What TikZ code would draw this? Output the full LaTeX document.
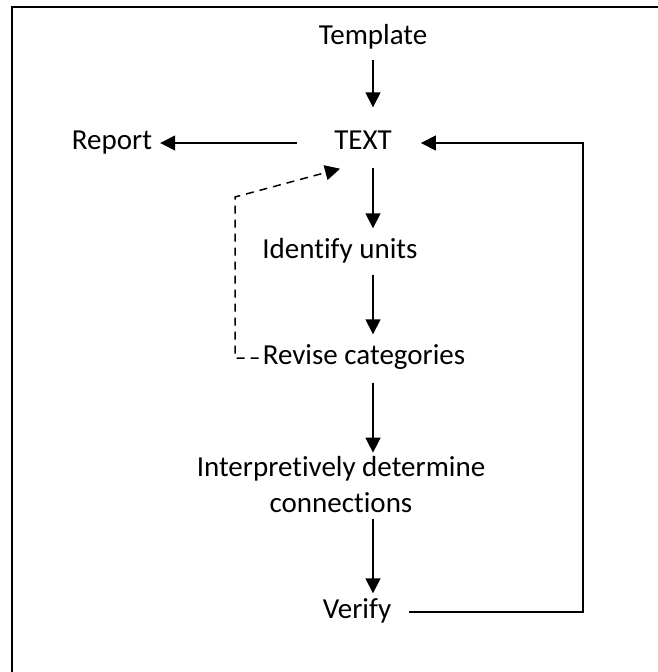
\documentclass[tikz,border=0pt]{standalone}
\usepackage{fontspec}
\setmainfont{Carlito}[Ligatures=NoCommon]
\usetikzlibrary{arrows.meta}

\begin{document}
\begin{tikzpicture}[x=1pt, y=-1pt,
    lbl/.style={inner sep=0pt, font=\fontsize{29}{36}\selectfont},
    word/.style={lbl, text height=20pt, text depth=7pt},
    flow/.style={-{Triangle[length=15pt,width=15pt]}, line width=1.5pt},
    back/.style={flow, dash pattern=on 8pt off 6pt}]
    % Page size
    \useasboundingbox (0,0) rectangle (658,672);

    % Frame
    \draw[line width=2pt] (12,7) rectangle (690,700);

    % Steps
    \node[word] (tmpl) at (373,38) {Template};
    \node[word] (text) at (363,143) {TEXT};
    \node[word] (report) at (112,143) {Report};
    \node[word] (identify) at (340,252) {Identify units};
    \node[word] (revise) at (364,358) {Revise categories};
    \node[lbl, align=center] (interp) at (341,485) {Interpretively determine\\connections};
    \node[word] (verify) at (357,612) {Verify};

    % Helper points
    \coordinate (col) at (373,0);
    \coordinate (rt) at (583,380);
    \coordinate (dcorner) at (235,197);

    % Main flow
    \foreach \a/\b/\s/\e in {tmpl/text/8/22, text/identify/11/10, identify/revise/9/10,
                             revise/interp/11/4, interp/verify/6/5} {
        \draw[flow, shorten <=\s pt, shorten >=\e pt] (\a.south -| col) -- (\b.north -| col);
    }

    % Report
    \draw[flow, shorten <=37pt, shorten >=8pt] (text.west) -- (report.east);

    % Loop back from Verify
    \draw[flow, shorten <=18pt, shorten >=29pt] (verify.east) -| (rt) |- (text.east);

    % Revision (dashed)
    \draw[back, shorten <=4pt] (revise.west) -| (dcorner) -- ([shift={(6,12)}]text.south west);
\end{tikzpicture}
\end{document}
